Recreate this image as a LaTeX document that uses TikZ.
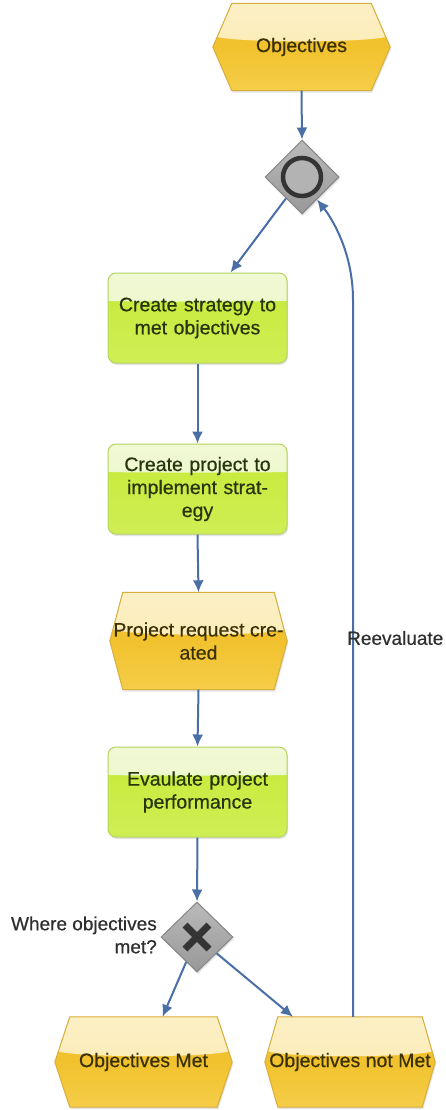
\documentclass[tikz,border=0pt]{standalone}
\usepackage{fontspec}
\setmainfont{Liberation Sans}
\newfontfamily\heavysans{Liberation Sans}[FakeBold=0.5]
\usetikzlibrary{shapes.geometric,arrows.meta,backgrounds,calc,shadows}

\definecolor{hexmain}{HTML}{F2C22E}
\definecolor{hexlow}{HTML}{F5CD48}
\definecolor{hexlight}{HTML}{FBE9AC}
\definecolor{hexedge}{HTML}{D8AE3C}
\definecolor{hextext}{HTML}{3A3006}
\definecolor{boxmain}{HTML}{C6EA36}
\definecolor{boxlow}{HTML}{CFEE55}
\definecolor{boxlight}{HTML}{EAF6C2}
\definecolor{boxedge}{HTML}{B4D462}
\definecolor{boxtext}{HTML}{26360C}
\definecolor{gwtop}{HTML}{BABABA}
\definecolor{gwbottom}{HTML}{989898}
\definecolor{gwedge}{HTML}{858585}
\definecolor{gwmark}{HTML}{343434}
\definecolor{flowblue}{HTML}{4A6EA6}
\definecolor{labeltext}{HTML}{2E2E2E}

\newcommand\diagfont{\heavysans\fontsize{19.5}{23}\selectfont}
\newcommand\labelfont{\heavysans\fontsize{19}{23}\selectfont}

% glossy top band, clipped to the shape it decorates
\newcommand\glossband[2]{%
  \shade[top color=#1!70!white, bottom color=#1]
    (path picture bounding box.north west) -- (path picture bounding box.north east)
    -- ($(path picture bounding box.north east)!#2!(path picture bounding box.south east)$)
    .. controls ($(path picture bounding box.north east)!#2+0.1!(path picture bounding box.south east)$)
       and ($(path picture bounding box.north west)!#2+0.1!(path picture bounding box.south west)$)
    .. ($(path picture bounding box.north west)!#2!(path picture bounding box.south west)$) -- cycle;}

% event hexagon behind a named text node; #2 is the depth of the side points
\newcommand\hexbody[2]{%
  \begin{scope}[on background layer]
    \path[hexshape]
      ([xshift=#2]#1.north west) -- ([xshift=-#2]#1.north east) -- (#1.east)
      -- ([xshift=-#2]#1.south east) -- ([xshift=#2]#1.south west) -- (#1.west) -- cycle;
  \end{scope}}

\begin{document}
\begin{tikzpicture}[x=1pt,y=-1pt,
  softshadow/.style={drop shadow={shadow xshift=1pt, shadow yshift=-2pt, opacity=0.15, fill=black!70}},
  hexnode/.style={rectangle, draw=none, inner sep=0pt, align=center, text=hextext, font=\diagfont},
  hexshape/.style={top color=hexmain, bottom color=hexlow, middle color=hexmain,
    draw=hexedge, line width=1pt, softshadow,
    path picture={\glossband{hexlight}{0.36}}},
  box/.style={rectangle, rounded corners=8pt, minimum width=179pt, minimum height=90pt,
    inner sep=0pt, text width=172pt, align=center, font=\diagfont, text=boxtext,
    top color=boxmain, bottom color=boxlow, draw=boxedge, line width=1pt, softshadow,
    path picture={\glossband{boxlight}{0.22}}},
  gateway/.style={diamond, minimum width=74pt, minimum height=74pt, inner sep=0pt,
    top color=gwtop, bottom color=gwbottom, draw=gwedge, line width=1pt, softshadow},
  flow/.style={draw=flowblue, line width=2pt, -{Latex[length=12pt,width=11pt]}},
  note/.style={text=labeltext, font=\labelfont, inner sep=0pt}]

\begin{scope}[on background layer]
  \fill[white] (0,0) rectangle (446,1110);
\end{scope}
\useasboundingbox (0,0) rectangle (446,1110);

% start event and merging gateway
\node[hexnode, minimum width=177pt, minimum height=87pt] (obj) at (301.5,47) {Objectives};
\hexbody{obj}{19pt}
\node[gateway] (gw1) at (302,177) {};
\draw[gwmark, line width=4.5pt, fill=gwtop!80!gwbottom] (gw1) circle [radius=19pt];

% activities and intermediate event
\node[box] (box1) at (197.5,318) {Create strategy to\\met objectives};
\node[box] (box2) at (197.5,489) {Create project to\\implement strat-\\egy};
\node[hexnode, minimum width=177pt, minimum height=97pt] (prc) at (198.5,641) {Project request cre-\\ated};
\hexbody{prc}{13pt}
\node[box, minimum height=90pt] (box3) at (197.5,792) {Evaulate project\\performance};

% exclusive decision
\node[gateway, minimum width=72pt, minimum height=70pt] (gw2) at (197,937) {};
\draw[gwmark, line width=7pt] ($(gw2)+(-12,-12)$) -- ($(gw2)+(12,12)$)
  ($(gw2)+(-12,12)$) -- ($(gw2)+(12,-12)$);
\node[note, anchor=east, align=right] (question) at (157,935) {Where objectives\\met?};

% end events
\node[hexnode, minimum width=177pt, minimum height=90pt] (om) at (143.5,1062) {Objectives Met};
\hexbody{om}{15pt}
\node[hexnode, minimum width=170pt, minimum height=90pt] (onm) at (350,1062) {Objectives not Met};
\hexbody{onm}{13pt}

% sequence flows
\draw[flow] (obj.south) -- (gw1.north);
\draw[flow] (gw1) -- ([xshift=33pt]box1.north);
\draw[flow] (box1.south) -- (box2.north);
\draw[flow] (box2.south) -- (prc.north);
\draw[flow] (prc.south) -- (box3.north);
\draw[flow] (box3.south) -- (gw2.north);
\draw[flow] (gw2) -- ([xshift=19pt]om.north);
\draw[flow] (gw2) -- ([xshift=-57pt]onm.north);

% loop back for reevaluation
\coordinate (reentry) at ($(gw1.east)!0.6!(gw1.south)$);
\coordinate (bend) at (353,300);
\draw[flow] ([xshift=3pt]onm.north) -- (bend) .. controls (353,250) and (330,216) .. (reentry);
\node[note, anchor=west] (reeval) at (347,638) {Reevaluate};

\end{tikzpicture}
\end{document}
